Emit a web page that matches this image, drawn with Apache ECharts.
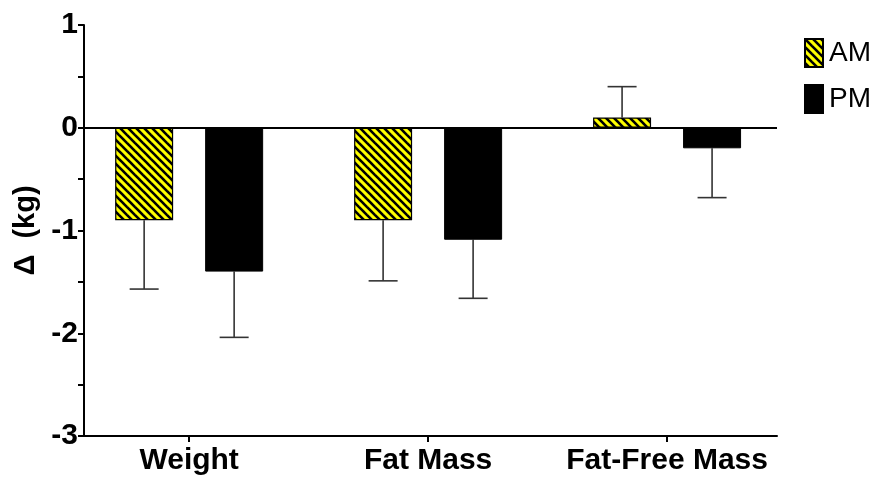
<!DOCTYPE html>
<html><head><meta charset="utf-8">
<script src="https://cdn.jsdelivr.net/npm/echarts@6/dist/echarts.min.js"></script>
<style>html,body{margin:0;padding:0;background:#fff}#c{width:878px;height:477px}</style>
</head><body><div id="c"></div>
<script>
const categories = ['Weight', 'Fat Mass', 'Fat-Free Mass'];
const amMeans = [-0.90, -0.90, 0.10];
const amErrors = [0.67, 0.59, 0.30];
const pmMeans = [-1.40, -1.09, -0.20];
const pmErrors = [0.64, 0.57, 0.48];
const yTicks = [-3, -2, -1, 0, 1];

function stripePattern() {
  const c = document.createElement('canvas');
  c.width = 8; c.height = 8;
  const g = c.getContext('2d');
  g.fillStyle = '#ffff00';
  g.fillRect(0, 0, 8, 8);
  g.strokeStyle = '#000';
  g.lineWidth = 2.6;
  for (let k = -16; k <= 16; k += 8) {
    g.beginPath(); g.moveTo(-2, k - 2); g.lineTo(10, k + 10); g.stroke();
  }
  return c;
}

const barW = 58, gapPx = 32;
const off = (barW + gapPx) / 2;

function errItem(sign) {
  return function (params, api) {
    const x = api.value(0), m = api.value(1), e = api.value(2);
    const end = m >= 0 ? m + e : m - e;
    const p0 = api.coord([x, m]);
    const p1 = api.coord([x, end]);
    const cx = p0[0] + sign * off;
    const st = { stroke: '#333', lineWidth: 1.6 };
    return { type: 'group', children: [
      { type: 'line', shape: { x1: cx, y1: p0[1], x2: cx, y2: p1[1] }, style: st },
      { type: 'line', shape: { x1: cx - 14.5, y1: p1[1], x2: cx + 14.5, y2: p1[1] }, style: st }
    ]};
  };
}

const chart = echarts.init(document.getElementById('c'));
const font = 'Liberation Sans, Arial, sans-serif';
chart.setOption({
  animation: false,
  grid: { left: 84, right: 101, top: 25, bottom: 41, containLabel: false, outerBoundsMode: 'none' },
  legend: {
    orient: 'vertical', left: 799, top: 33,
    icon: 'rect',
    itemWidth: 18, itemHeight: 28, itemGap: 16,
    textStyle: { fontFamily: font, fontSize: 28, color: '#000', padding: [0, 0, 0, 1] },
    data: ['AM', 'PM']
  },
  xAxis: {
    type: 'value', min: -0.44, max: 2.46,
    axisLine: { show: true, onZero: false, lineStyle: { color: '#000', width: 2 } },
    axisTick: { show: true, length: 6, customValues: [0, 1, 2], lineStyle: { color: '#000', width: 2 } },
    axisLabel: { customValues: [0, 1, 2], formatter: v => categories[Math.round(v)], fontFamily: font, fontWeight: 'bold', fontSize: 30, color: '#000', margin: 10 },
    splitLine: { show: false }
  },
  yAxis: {
    type: 'value', min: -3, max: 1, interval: 1,
    name: 'Δ  (kg)', nameLocation: 'middle', nameGap: 42, nameRotate: 90,
    nameTextStyle: { fontFamily: font, fontWeight: 'bold', fontSize: 29, color: '#000' },
    axisLine: { show: true, onZero: false, lineStyle: { color: '#000', width: 2 } },
    axisTick: { show: true, length: 6, lineStyle: { color: '#000', width: 2 } },
    minorTick: { show: true, splitNumber: 2, length: 6, lineStyle: { color: '#000', width: 2 } },
    axisLabel: { fontFamily: font, fontWeight: 'bold', fontSize: 30, color: '#000', margin: 6, customValues: yTicks },
    splitLine: { show: false }
  },
  series: [
    { name: 'AM', type: 'bar', barWidth: barW, barGap: (gapPx / barW * 100) + '%',
      data: categories.map((c, i) => [i, amMeans[i]]),
      itemStyle: { color: { image: stripePattern(), repeat: 'repeat' }, borderColor: '#000', borderWidth: 1.2 } },
    { name: 'PM', type: 'bar', barWidth: barW,
      data: categories.map((c, i) => [i, pmMeans[i]]),
      itemStyle: { color: '#000', borderColor: '#000', borderWidth: 1 },
      markLine: { silent: true, symbol: 'none', label: { show: false },
        lineStyle: { color: '#000', width: 2, type: 'solid' }, data: [{ yAxis: 0 }] } },
    { type: 'custom', renderItem: errItem(-1), z: 1,
      data: categories.map((c, i) => [i, amMeans[i], amErrors[i]]) },
    { type: 'custom', renderItem: errItem(1), z: 1,
      data: categories.map((c, i) => [i, pmMeans[i], pmErrors[i]]) }
  ]
});
</script></body></html>
